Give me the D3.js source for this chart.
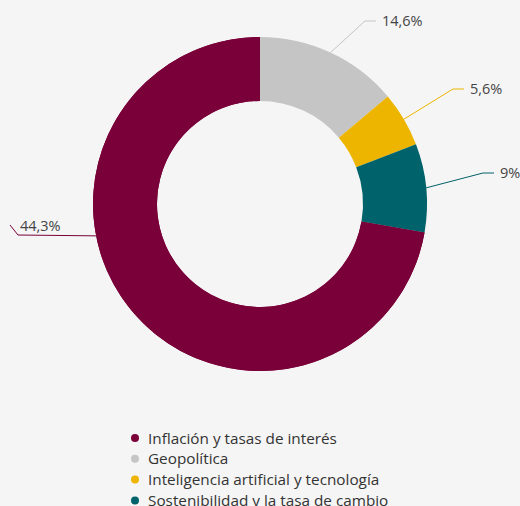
<!DOCTYPE html>
<html>
<head>
<meta charset="utf-8">
<script src="https://cdn.jsdelivr.net/npm/d3@7/dist/d3.min.js"></script>
<style>
  html, body { margin: 0; padding: 0; background: #f5f5f5; }
  svg { display: block; font-family: "Open Sans", "Noto Sans", sans-serif; }
</style>
</head>
<body>
<div id="chart"></div>
<script>
// Survey shares (%) by risk category; the last slice is the unlisted remainder.
const categories = [
  "Inflación y tasas de interés",
  "Geopolítica",
  "Inteligencia artificial y tecnología",
  "Sostenibilidad y la tasa de cambio",
  "Otros"
];
const values = [44.3, 14.6, 5.6, 9, 31.8];
const valueLabels = ["44,3%", "14,6%", "5,6%", "9%", null];
const palette = ["#7a0039", "#c5c5c5", "#eeb500", "#00626a"];

const width = 520, height = 506;
const cx = 260, cy = 204;
const outerR = 167, innerR = 103;

const svg = d3.select("#chart").append("svg")
  .attr("width", width).attr("height", height);

svg.append("rect").attr("width", width).attr("height", height).attr("fill", "#f5f5f5");

// Colours cycle through the four-colour palette, so the fifth slice reuses the first.
const color = d3.scaleOrdinal().domain(categories).range(palette);

const data = categories.map((c, i) => ({ category: c, value: values[i], label: valueLabels[i] }));
const total = d3.sum(values);

// Rotate the ring so that the second category begins at 12 o'clock.
const start = -2 * Math.PI * values[0] / total;
const pie = d3.pie().sort(null).value(d => d.value)
  .startAngle(start).endAngle(start + 2 * Math.PI);
const arcs = pie(data);

const arc = d3.arc().innerRadius(innerR).outerRadius(outerR);

const g = svg.append("g").attr("transform", `translate(${cx},${cy})`);

// Same-coloured neighbours (last and first slice) share an underlay so no seam shows.
const last = arcs[arcs.length - 1], first = arcs[0];
g.append("path")
  .attr("d", arc({ startAngle: last.startAngle, endAngle: first.endAngle + 2 * Math.PI }))
  .attr("fill", color(first.data.category));

g.selectAll("path.slice")
  .data(arcs)
  .join("path")
  .attr("class", "slice")
  .attr("d", arc)
  .attr("fill", d => color(d.data.category));

// Data label placement: connector anchor angle (deg, null = slice midpoint) and the elbow point.
const labelLayout = {
  "Inflación y tasas de interés": { angle: 259, elbow: [-242, 31], tip: [-250, 21], side: "left" },
  "Geopolítica": { angle: null, elbow: [105, -183], side: "right" },
  "Inteligencia artificial y tecnología": { angle: null, elbow: [193, -115], side: "right" },
  "Sostenibilidad y la tasa de cambio": { angle: null, elbow: [223, -31], side: "right" }
};

const pt = (ang, r) => [Math.sin(ang) * r, -Math.cos(ang) * r];

arcs.filter(d => d.data.label).forEach(d => {
  const lay = labelLayout[d.data.category];
  const ang = lay.angle == null ? (d.startAngle + d.endAngle) / 2 : lay.angle * Math.PI / 180;
  const a = pt(ang, outerR);
  const c = color(d.data.category);
  let points, tx, ty;
  const e = lay.elbow;
  if (lay.side === "right") {
    points = [a, e, [e[0] + 11, e[1]]];
    tx = e[0] + 17; ty = e[1] + 5;
  } else {
    points = [a, e, lay.tip];
    tx = lay.tip[0] + 10; ty = lay.tip[1] + 6;
  }
  g.append("path")
    .attr("d", d3.line()(points))
    .attr("fill", "none")
    .attr("stroke", c)
    .attr("stroke-width", 1);
  g.append("text")
    .attr("x", tx).attr("y", ty)
    .attr("font-size", 14.5)
    .attr("fill", "#444")
    .text(d.data.label);
});

// Legend for the named categories (the remainder slice has no row).
const legendCats = categories.slice(0, 4);
const legend = svg.append("g").attr("transform", "translate(135,438)");
const rows = legend.selectAll("g.row")
  .data(legendCats)
  .join("g")
  .attr("class", "row")
  .attr("transform", (d, i) => `translate(0,${i * 20.8})`);
rows.append("circle").attr("r", 4).attr("fill", d => color(d));
rows.append("text")
  .attr("x", 13).attr("y", 5.5)
  .attr("font-size", 15.3)
  .attr("fill", "#333")
  .text(d => d);
</script>
</body>
</html>
